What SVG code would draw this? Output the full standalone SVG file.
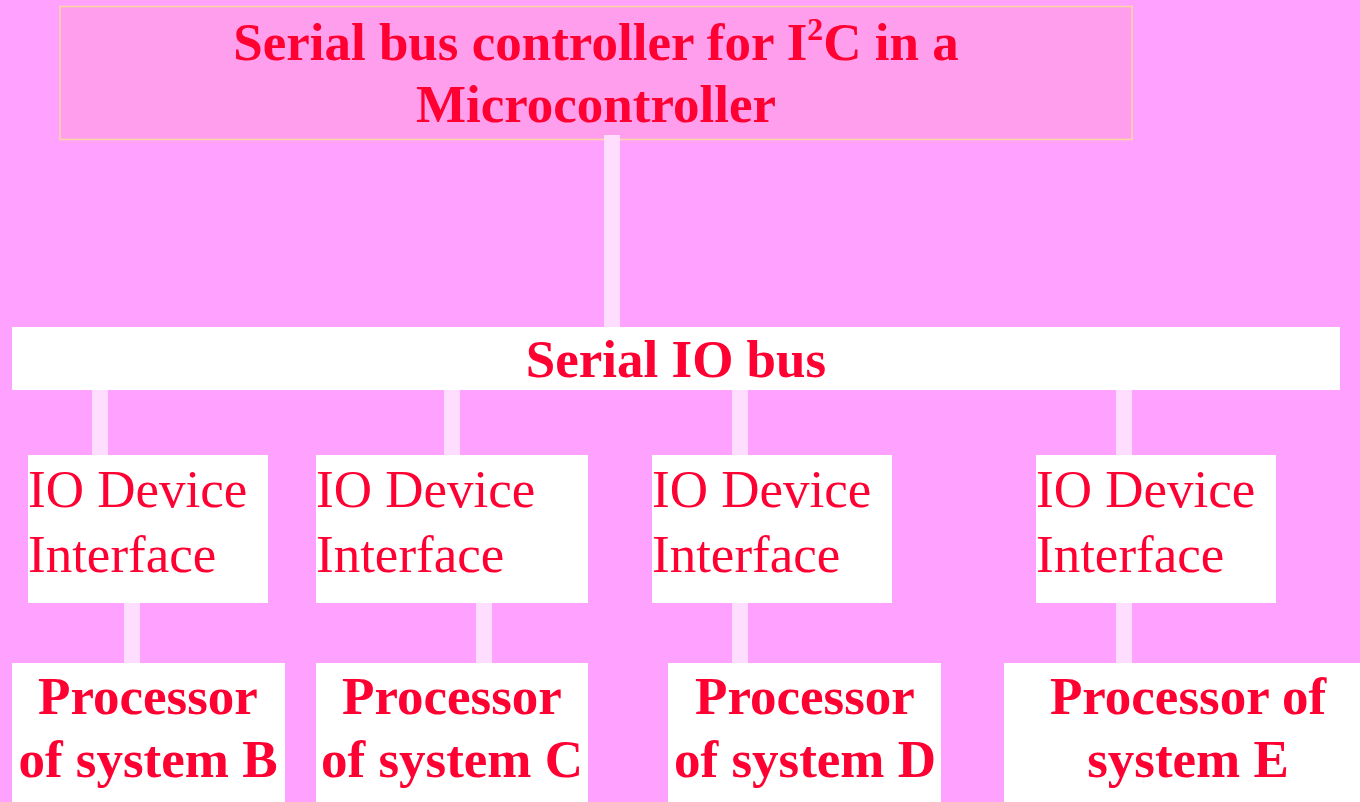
<svg xmlns="http://www.w3.org/2000/svg" width="1360" height="802" viewBox="0 0 1360 802">
<style>
.bold{font-family:"Liberation Serif","Times New Roman",serif;font-weight:bold;font-size:53px;fill:#FF0033}
.reg{font-family:"Liberation Serif","Times New Roman",serif;font-size:53px;fill:#FF0033}
.box{fill:#FFFFFF}
.conn{fill:#FFDDFF}
</style>
<rect x="0" y="0" width="1360" height="802" fill="#FFA1FF"/>
<g id="controller">
<rect x="60" y="6.5" width="1072" height="133" fill="#FF9EEC" stroke="#FFD8A0" stroke-width="1.5"/>
<text class="bold" x="596" y="60" text-anchor="middle">Serial bus controller for I<tspan font-size="32" dy="-20">2</tspan><tspan dy="20">C in a</tspan></text>
<text class="bold" x="596" y="122" text-anchor="middle">Microcontroller</text>
</g>
<g id="connectors">
<rect class="conn" x="604" y="135" width="16" height="192"/>
<rect class="conn" x="92" y="390" width="16" height="65"/>
<rect class="conn" x="444" y="390" width="16" height="65"/>
<rect class="conn" x="732" y="390" width="16" height="65"/>
<rect class="conn" x="1116" y="390" width="16" height="65"/>
<rect class="conn" x="124" y="603" width="16" height="60"/>
<rect class="conn" x="476" y="603" width="16" height="60"/>
<rect class="conn" x="732" y="603" width="16" height="60"/>
<rect class="conn" x="1116" y="603" width="16" height="60"/>
</g>
<g id="serial-io-bus">
<rect class="box" x="12" y="327" width="1328" height="63"/>
<text class="bold" x="676" y="377" text-anchor="middle">Serial IO bus</text>
</g>
<g id="io-b">
<rect class="box" x="28" y="455" width="240" height="148"/>
<text class="reg" x="28" y="507">IO Device</text>
<text class="reg" x="28" y="572">Interface</text>
</g>
<g id="io-c">
<rect class="box" x="316" y="455" width="272" height="148"/>
<text class="reg" x="316" y="507">IO Device</text>
<text class="reg" x="316" y="572">Interface</text>
</g>
<g id="io-d">
<rect class="box" x="652" y="455" width="240" height="148"/>
<text class="reg" x="652" y="507">IO Device</text>
<text class="reg" x="652" y="572">Interface</text>
</g>
<g id="io-e">
<rect class="box" x="1036" y="455" width="240" height="148"/>
<text class="reg" x="1036" y="507">IO Device</text>
<text class="reg" x="1036" y="572">Interface</text>
</g>
<g id="proc-b">
<rect class="box" x="12" y="663" width="273" height="139"/>
<text class="bold" x="148" y="714" text-anchor="middle">Processor</text>
<text class="bold" x="148" y="777" text-anchor="middle">of system B</text>
</g>
<g id="proc-c">
<rect class="box" x="316" y="663" width="272" height="139"/>
<text class="bold" x="452" y="714" text-anchor="middle">Processor</text>
<text class="bold" x="452" y="777" text-anchor="middle">of system C</text>
</g>
<g id="proc-d">
<rect class="box" x="668" y="663" width="273" height="139"/>
<text class="bold" x="805" y="714" text-anchor="middle">Processor</text>
<text class="bold" x="805" y="777" text-anchor="middle">of system D</text>
</g>
<g id="proc-e">
<rect class="box" x="1004" y="663" width="356" height="139"/>
<text class="bold" x="1188" y="714" text-anchor="middle">Processor of</text>
<text class="bold" x="1188" y="777" text-anchor="middle">system E</text>
</g>
</svg>
